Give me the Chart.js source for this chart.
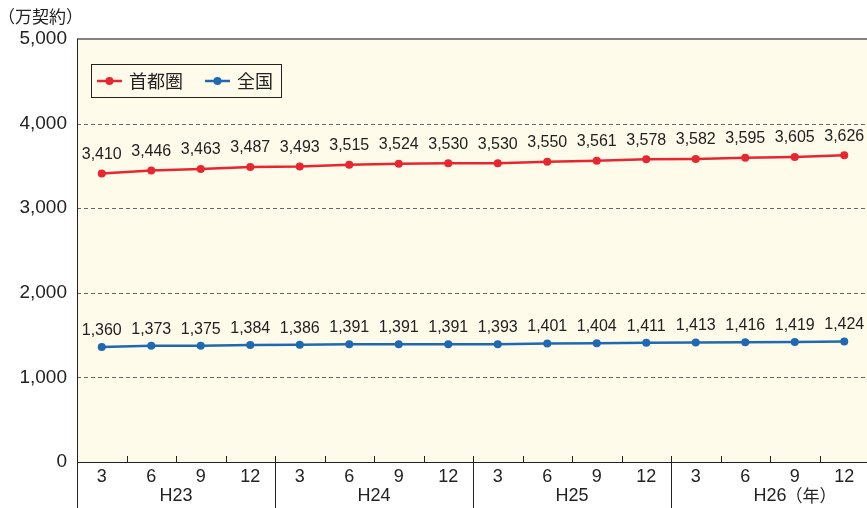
<!DOCTYPE html>
<html lang="ja">
<head>
<meta charset="utf-8">
<title>契約数の推移</title>
<script src="https://cdn.jsdelivr.net/npm/chart.js@4.4.1/dist/chart.umd.min.js"></script>
<style>
  html, body { margin: 0; padding: 0; background: #fff; overflow: hidden; }
  #wrap { position: relative; width: 873px; height: 508px; }
</style>
</head>
<body>
<div id="wrap"><canvas id="chart" width="873" height="508"></canvas></div>
<script>
// quarter labels (month) and the fiscal year groups they belong to
var months = ['3', '6', '9', '12', '3', '6', '9', '12', '3', '6', '9', '12', '3', '6', '9', '12'];
var years = ['H23', 'H24', 'H25', 'H26'];
var yTicks = [0, 1000, 2000, 3000, 4000, 5000];

// 万契約
var shutoken = [3410, 3446, 3463, 3487, 3493, 3515, 3524, 3530, 3530, 3550, 3561, 3578, 3582, 3595, 3605, 3626];
var zenkoku = [1360, 1373, 1375, 1384, 1386, 1391, 1391, 1391, 1393, 1401, 1404, 1411, 1413, 1416, 1419, 1424];

var RED = '#e8262f';
var BLUE = '#1f69b3';
var NUM_FONT = '"Liberation Sans", Arial, sans-serif';
var JP_FONT = '"Noto Sans CJK JP", "Noto Sans", sans-serif';

function fmt(v) {
    return v.toLocaleString('en-US');
}

var decor = {
    id: 'decor',
    beforeDatasetsDraw: function (chart) {
        var ctx = chart.ctx;
        var a = chart.chartArea;
        var y = chart.scales.y;
        ctx.save();
        ctx.fillStyle = '#fffbeb';
        ctx.fillRect(a.left, a.top, a.right - a.left, a.bottom - a.top);

        // dashed grid
        ctx.strokeStyle = '#666';
        ctx.lineWidth = 1;
        ctx.setLineDash([4, 3]);
        for (var i = 1; i < yTicks.length - 1; i++) {
            var py = Math.round(y.getPixelForValue(yTicks[i])) + 0.5;
            ctx.beginPath();
            ctx.moveTo(a.left, py);
            ctx.lineTo(a.right, py);
            ctx.stroke();
        }
        ctx.setLineDash([]);

        // top frame
        ctx.strokeStyle = '#5a5a5a';
        ctx.lineWidth = 1.5;
        ctx.beginPath();
        ctx.moveTo(a.left, y.getPixelForValue(5000));
        ctx.lineTo(a.right, y.getPixelForValue(5000));
        ctx.stroke();
        ctx.restore();
    },
    afterDraw: function (chart) {
        var ctx = chart.ctx;
        var a = chart.chartArea;
        var x = chart.scales.x;
        var n = months.length;
        var step = (a.right - a.left) / n;
        ctx.save();

        // axes
        ctx.strokeStyle = '#222';
        ctx.lineWidth = 1;
        ctx.beginPath();
        ctx.moveTo(a.left + 0.5, a.top);
        ctx.lineTo(a.left + 0.5, chart.height);
        ctx.moveTo(a.left, a.bottom + 0.5);
        ctx.lineTo(a.right, a.bottom + 0.5);
        ctx.stroke();

        // quarter ticks and year separators
        for (var i = 1; i < n; i++) {
            var px = Math.round(x.getPixelForValue(i) - step / 2) + 0.5;
            ctx.beginPath();
            ctx.moveTo(px, a.bottom - 6);
            ctx.lineTo(px, i % 4 === 0 ? chart.height : a.bottom);
            ctx.stroke();
        }

        // year labels
        ctx.fillStyle = '#222';
        ctx.font = '18px ' + NUM_FONT;
        ctx.textBaseline = 'middle';
        ctx.textAlign = 'center';
        for (var g = 0; g < years.length; g++) {
            var cx = (x.getPixelForValue(g * 4) + x.getPixelForValue(g * 4 + 3)) / 2;
            ctx.fillText(years[g], cx, 496);
            if (g === years.length - 1) {
                var w = ctx.measureText(years[g]).width;
                ctx.textAlign = 'left';
                ctx.font = '17px ' + JP_FONT;
                ctx.fillText('（年）', cx + w / 2 - 1, 496);
                ctx.font = '18px ' + NUM_FONT;
                ctx.textAlign = 'center';
            }
        }

        // value labels
        ctx.font = '16px ' + NUM_FONT;
        ctx.textBaseline = 'middle';
        chart.data.datasets.forEach(function (ds, di) {
            var meta = chart.getDatasetMeta(di);
            meta.data.forEach(function (pt, j) {
                ctx.fillText(fmt(ds.data[j]), pt.x, pt.y - ds.labelGap);
            });
        });

        // legend
        var lx = 91.5, ly = 64.5, lw = 190, lh = 33;
        ctx.strokeStyle = '#222';
        ctx.lineWidth = 1;
        ctx.strokeRect(lx, ly, lw, lh);
        var items = [
            { text: '首都圏', color: RED, x: 97 },
            { text: '全国', color: BLUE, x: 205 }
        ];
        items.forEach(function (it) {
            var my = ly + lh / 2;
            ctx.strokeStyle = it.color;
            ctx.lineWidth = 2.5;
            ctx.beginPath();
            ctx.moveTo(it.x, my);
            ctx.lineTo(it.x + 25, my);
            ctx.stroke();
            ctx.fillStyle = it.color;
            ctx.beginPath();
            ctx.arc(it.x + 12.5, my, 4, 0, Math.PI * 2);
            ctx.fill();
            ctx.fillStyle = '#222';
            ctx.font = '18px ' + JP_FONT;
            ctx.textAlign = 'left';
            ctx.fillText(it.text, it.x + 32, my);
        });

        // unit
        ctx.font = '17px ' + JP_FONT;
        ctx.textAlign = 'left';
        ctx.fillStyle = '#222';
        ctx.fillText('（万契約）', -2, 17);
        ctx.restore();
    }
};

new Chart(document.getElementById('chart'), {
    type: 'line',
    data: {
        labels: months,
        datasets: [
            {
                label: '首都圏',
                data: shutoken,
                borderColor: RED,
                backgroundColor: RED,
                labelGap: 19
            },
            {
                label: '全国',
                data: zenkoku,
                borderColor: BLUE,
                backgroundColor: BLUE,
                labelGap: 16.5
            }
        ]
    },
    options: {
        responsive: false,
        animation: false,
        devicePixelRatio: 1,
        layout: { padding: { top: 39, right: 1, bottom: 0, left: 0 } },
        elements: {
            line: { borderWidth: 2.5, tension: 0 },
            point: { radius: 4, borderWidth: 0, hoverRadius: 4 }
        },
        plugins: {
            legend: { display: false },
            tooltip: { enabled: false }
        },
        scales: {
            x: {
                offset: true,
                grid: { display: false, drawTicks: false },
                border: { display: false },
                ticks: {
                    padding: 4,
                    color: '#222',
                    font: { size: 18, family: NUM_FONT },
                    maxRotation: 0,
                    autoSkip: false
                },
                afterFit: function (s) { s.height = 46; }
            },
            y: {
                min: 0,
                max: 5000,
                grid: { display: false, drawTicks: false },
                border: { display: false },
                ticks: {
                    stepSize: 1000,
                    padding: 10,
                    color: '#222',
                    font: { size: 19, family: NUM_FONT },
                    callback: function (v) { return fmt(v); }
                },
                afterFit: function (s) { s.width = 77; }
            }
        }
    },
    plugins: [decor]
});
</script>
</body>
</html>
